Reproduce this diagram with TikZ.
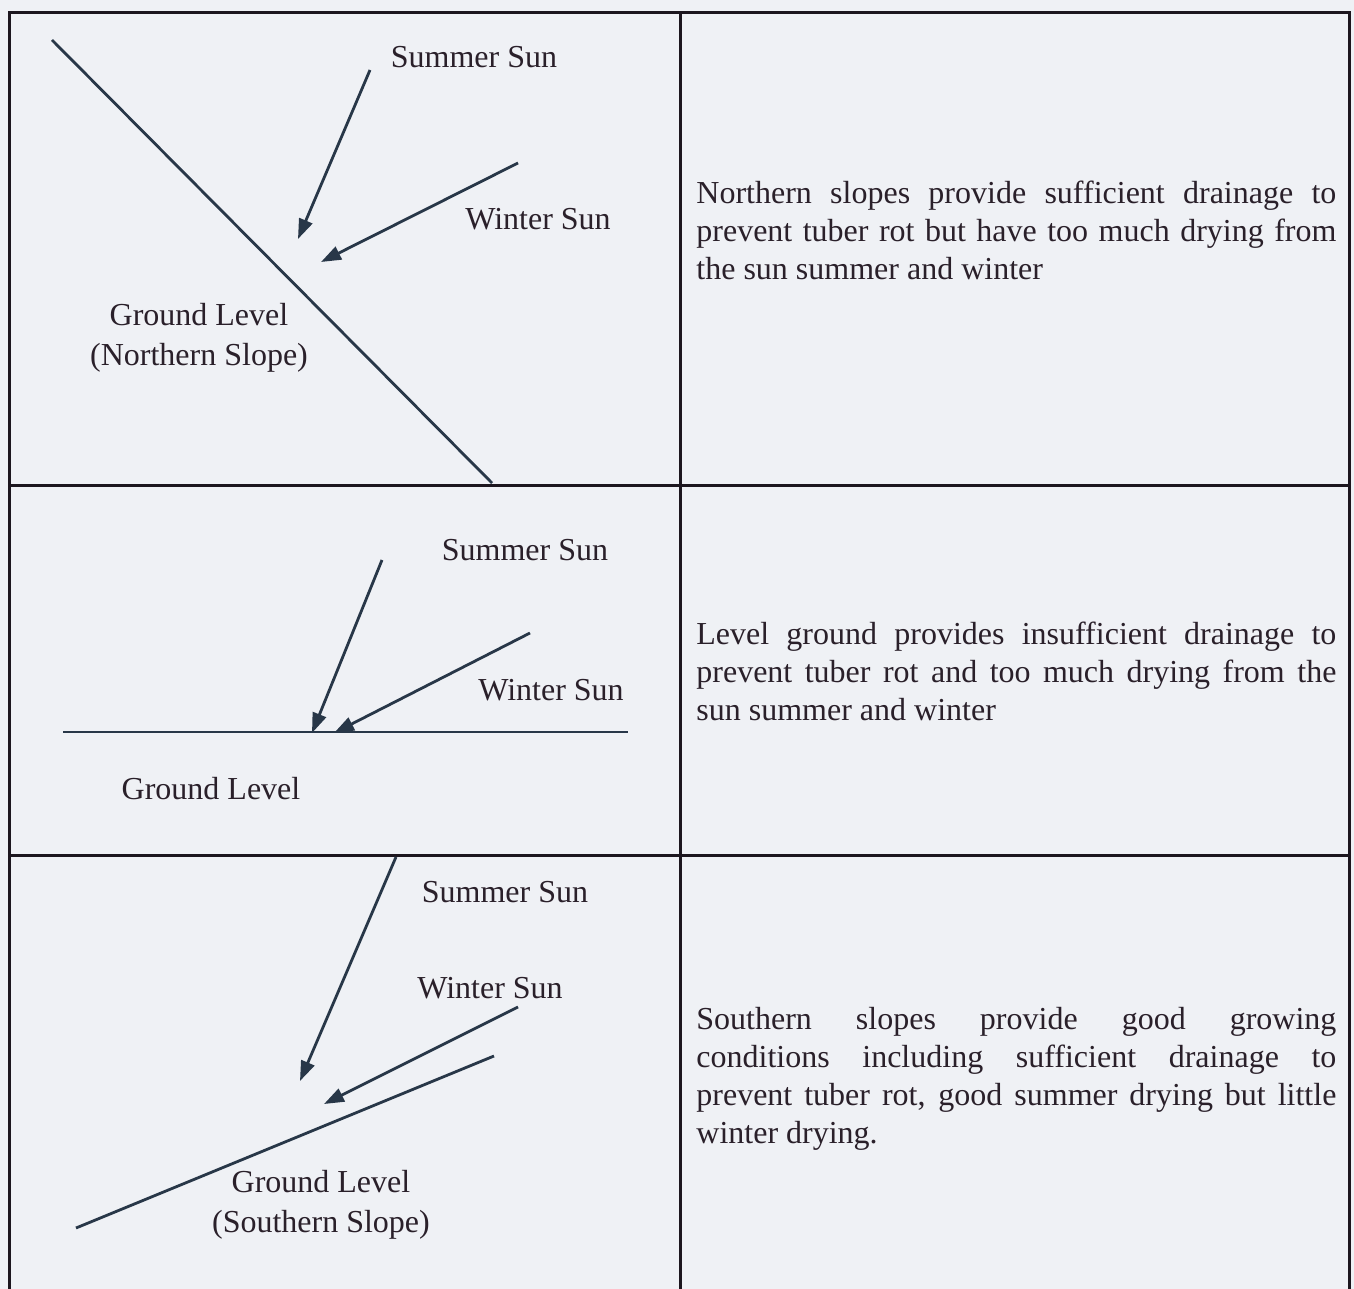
\documentclass[tikz,border=0pt]{standalone}
\usepackage{fontspec}
\setmainfont{Liberation Serif}
\usetikzlibrary{arrows.meta}
\definecolor{bg}{RGB}{239,241,245}
\definecolor{ink}{RGB}{42,32,42}
\definecolor{rule}{RGB}{28,22,30}
\definecolor{lineC}{RGB}{40,55,72}
\tikzset{
  tablerule/.style={draw=rule,line width=1.5pt},
  groundline/.style={draw=lineC,line width=1.4pt},
  sunray/.style={draw=lineC,line width=1.4pt,-{Triangle[length=10pt,width=7pt]}},
  lbl/.style={text=ink,font=\fontsize{16}{20}\selectfont,inner sep=0pt,align=center},
  para/.style={text=ink,font=\fontsize{16}{19}\selectfont,inner sep=0pt,text width=320pt,align=justify,anchor=north west}
}
\begin{document}
\begin{tikzpicture}[x=0.5pt,y=-0.5pt]
\useasboundingbox (0,0) rectangle (1354,1289);
\fill[bg] (0,0) rectangle (1354,1289);
% table
\coordinate (tl) at (9,13);
\coordinate (tr) at (1349,13);
\coordinate (bl) at (9,1289);
\coordinate (br) at (1349,1289);
\coordinate (ct) at (680,13);
\coordinate (cb) at (680,1289);
\coordinate (r1l) at (9,485);
\coordinate (r1r) at (1349,485);
\coordinate (r2l) at (9,855);
\coordinate (r2r) at (1349,855);
\draw[tablerule] (bl) -- (tl) -- (tr) -- (br);
\draw[tablerule] (ct) -- (cb);
\draw[tablerule] (r1l) -- (r1r);
\draw[tablerule] (r2l) -- (r2r);

% panel 1
\coordinate (g1a) at (52,40);
\coordinate (g1b) at (492,483);
\draw[groundline] (g1a) -- (g1b);
\coordinate (s1a) at (370,70);
\coordinate (s1b) at (298,239);
\draw[sunray] (s1a) -- (s1b);
\coordinate (w1a) at (518,163);
\coordinate (w1b) at (321,262);
\draw[sunray] (w1a) -- (w1b);
\node[lbl] (summer1) at (474,57) {Summer Sun};
\node[lbl] (winter1) at (538,219) {Winter Sun};
\node[lbl] (ground1) at (199,338) {Ground Level\\(Northern Slope)};
\node[para] (text1) at (696,177) {\strut Northern slopes provide sufficient drainage to\linebreak prevent tuber rot but have too much drying from\linebreak the sun summer and winter};

% panel 2
\coordinate (g2a) at (63,732);
\coordinate (g2b) at (628,732);
\draw[groundline] (g2a) -- (g2b);
\coordinate (s2a) at (382,560);
\coordinate (s2b) at (312,733);
\draw[sunray] (s2a) -- (s2b);
\coordinate (w2a) at (530,633);
\coordinate (w2b) at (334,733);
\draw[sunray] (w2a) -- (w2b);
\node[lbl] (summer2) at (525,550) {Summer Sun};
\node[lbl] (winter2) at (551,690) {Winter Sun};
\node[lbl] (ground2) at (211,789) {Ground Level};
\node[para] (text2) at (696,617) {\strut Level ground provides insufficient drainage to\linebreak prevent tuber rot and too much drying from the\linebreak sun summer and winter};

% panel 3
\coordinate (s3a) at (396,857);
\coordinate (s3b) at (300,1081);
\draw[sunray] (s3a) -- (s3b);
\coordinate (w3a) at (518,1007);
\coordinate (w3b) at (324,1104);
\draw[sunray] (w3a) -- (w3b);
\coordinate (g3a) at (76,1228);
\coordinate (g3b) at (494,1056);
\draw[groundline] (g3a) -- (g3b);
\node[lbl] (summer3) at (505,892) {Summer Sun};
\node[lbl] (winter3) at (490,988) {Winter Sun};
\node[lbl] (ground3) at (321,1205) {Ground Level\\(Southern Slope)};
\node[para] (text3) at (696,1002) {\strut Southern slopes provide good growing\linebreak conditions including sufficient drainage to\linebreak prevent tuber rot, good summer drying but little\linebreak winter drying.};
\end{tikzpicture}
\end{document}
